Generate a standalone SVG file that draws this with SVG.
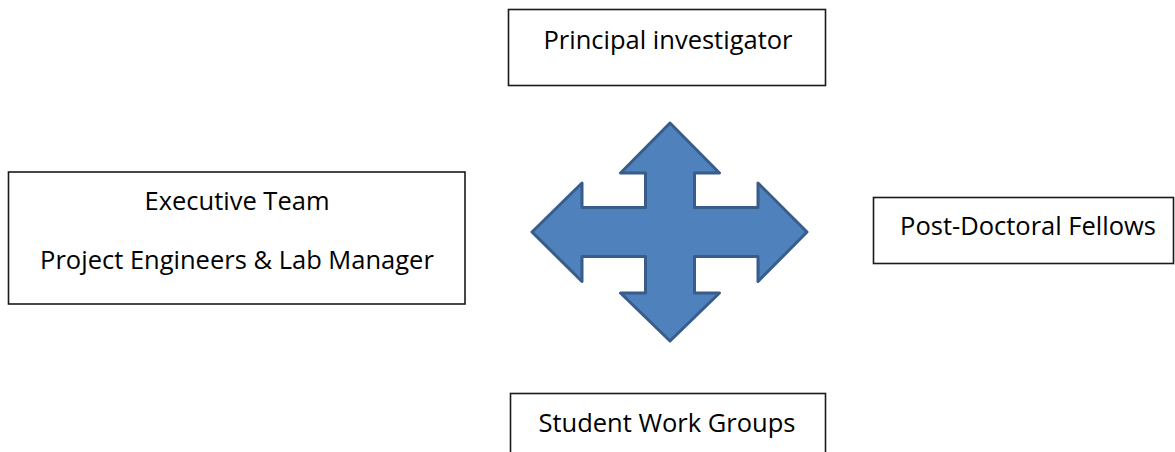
<svg xmlns="http://www.w3.org/2000/svg" width="1175" height="452" viewBox="0 0 1175 452">
  <style>
    .box { fill: #ffffff; stroke: #1a1a1a; stroke-width: 1.6; }
    .label { font-family: "Open Sans", "Liberation Sans", sans-serif; font-size: 25.5px; fill: #000000; text-anchor: middle; }
    .cross { fill: #4f81bd; stroke: #385d8a; stroke-width: 3; stroke-linejoin: round; }
  </style>
  <rect width="1175" height="452" fill="#ffffff"/>

  <g id="principal-investigator">
    <rect class="box" x="508.5" y="9.5" width="317" height="76"/>
    <text class="label" x="668" y="49">Principal investigator</text>
  </g>

  <g id="executive-team">
    <rect class="box" x="8.5" y="172" width="456.5" height="132"/>
    <text class="label" x="237" y="210">Executive Team</text>
    <text class="label" x="237" y="269">Project Engineers &amp; Lab Manager</text>
  </g>

  <g id="post-doctoral-fellows">
    <rect class="box" x="873.5" y="197.5" width="300" height="66"/>
    <text class="label" x="1028" y="235">Post-Doctoral Fellows</text>
  </g>

  <g id="student-work-groups">
    <rect class="box" x="510.5" y="393.5" width="315" height="70"/>
    <text class="label" x="667" y="432">Student Work Groups</text>
  </g>

  <g id="connectors">
    <!-- four-way arrow linking the groups -->
    <path class="cross" d="M670,123 L719.5,173 L694.5,173 L694.5,207.5 L758,207.5 L758,183 L807,232 L758,281.5 L758,256.5 L694.5,256.5 L694.5,293 L719.5,293 L670,341 L620.5,293 L645.5,293 L645.5,256.5 L582,256.5 L582,281.5 L532,232 L582,183 L582,207.5 L645.5,207.5 L645.5,173 L620.5,173 Z"/>
  </g>
</svg>
